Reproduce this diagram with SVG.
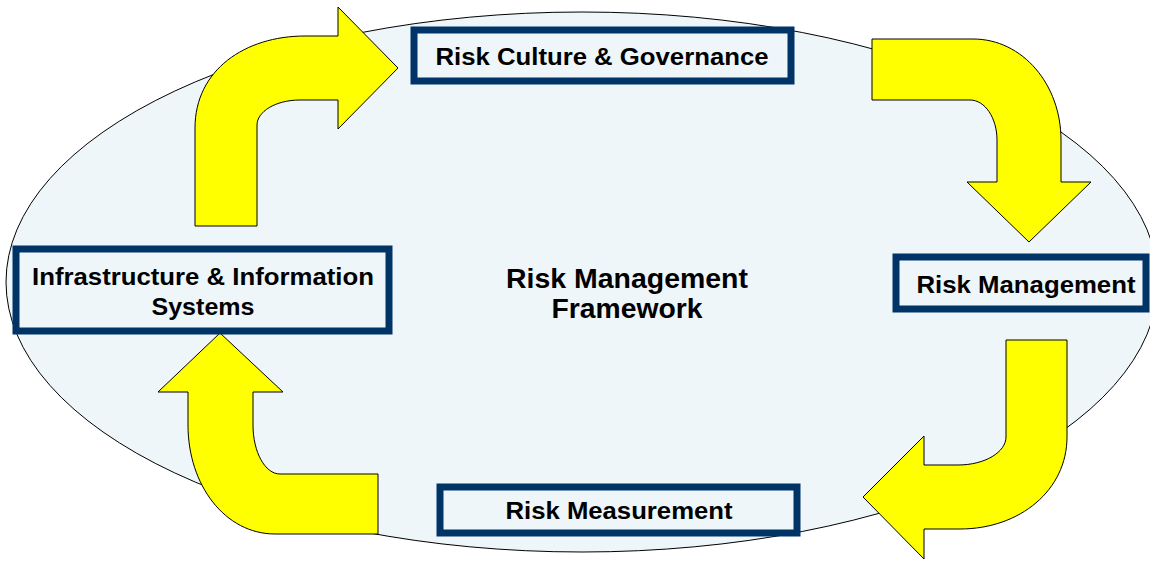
<svg xmlns="http://www.w3.org/2000/svg" width="1150" height="561" viewBox="0 0 1150 561">
<style>
.box{fill:#EEF6FA;stroke:#003366;stroke-width:7}
.lbl{font-family:"Liberation Sans",Arial,sans-serif;font-weight:bold;font-size:23px;fill:#000;text-anchor:middle}
.big{font-size:27px}
.arr{fill:#FFFF00;stroke:#000;stroke-width:1;stroke-linejoin:miter}
</style>
<rect width="1150" height="561" fill="#fff"/>
<g id="framework">
<ellipse cx="582" cy="282" rx="576" ry="270" fill="#EEF6FA" stroke="#000" stroke-width="1"/>
<text class="lbl big" x="627" y="288" textLength="242" lengthAdjust="spacingAndGlyphs">Risk Management</text>
<text class="lbl big" x="627" y="318" textLength="151" lengthAdjust="spacingAndGlyphs">Framework</text>
</g>
<g id="connectors">
<path class="arr" d="M195,226 L195,128 C195,70 245,36 305,36 L338,36 L338,7 L398,68 L338,129 L338,100 L300,100 C275,100 257,112 257,125 L257,226 Z"/>
<path class="arr" d="M872,39 L973,39 C1023,39 1061,85 1061,140 L1061,182 L1091,182 L1029,242 L967,182 L997,182 L997,140 C997,118 985,100 970,100 L872,100 Z"/>
<path class="arr" d="M1006,340 L1067,340 L1067,437 C1067,490 1020,529 960,529 L924,529 L924,559 L863,497 L924,436 L924,465 L958,465 C985,465 1006,452 1006,437 Z"/>
<path class="arr" d="M378,474 L378,534 L275,534 C225,534 188,485 188,425 L188,392 L158,392 L220,333 L283,392 L253,392 L253,425 C253,452 265,474 280,474 Z"/>
</g>
<g id="culture">
<rect class="box" x="414" y="30" width="377" height="51" stroke-width="6"/>
<text class="lbl" x="602" y="65" textLength="333" lengthAdjust="spacingAndGlyphs">Risk Culture &amp; Governance</text>
</g>
<g id="riskmgmt">
<rect class="box" x="896" y="257" width="250" height="52"/>
<text class="lbl" x="1026" y="293" textLength="219" lengthAdjust="spacingAndGlyphs">Risk Management</text>
</g>
<g id="measurement">
<rect class="box" x="440" y="487" width="357" height="46"/>
<text class="lbl" x="619" y="519" textLength="227" lengthAdjust="spacingAndGlyphs">Risk Measurement</text>
</g>
<g id="infrastructure">
<rect class="box" x="16" y="249" width="373" height="82"/>
<text class="lbl" x="203" y="285" textLength="342" lengthAdjust="spacingAndGlyphs">Infrastructure &amp; Information</text>
<text class="lbl" x="203" y="315" textLength="103" lengthAdjust="spacingAndGlyphs">Systems</text>
</g>
</svg>
